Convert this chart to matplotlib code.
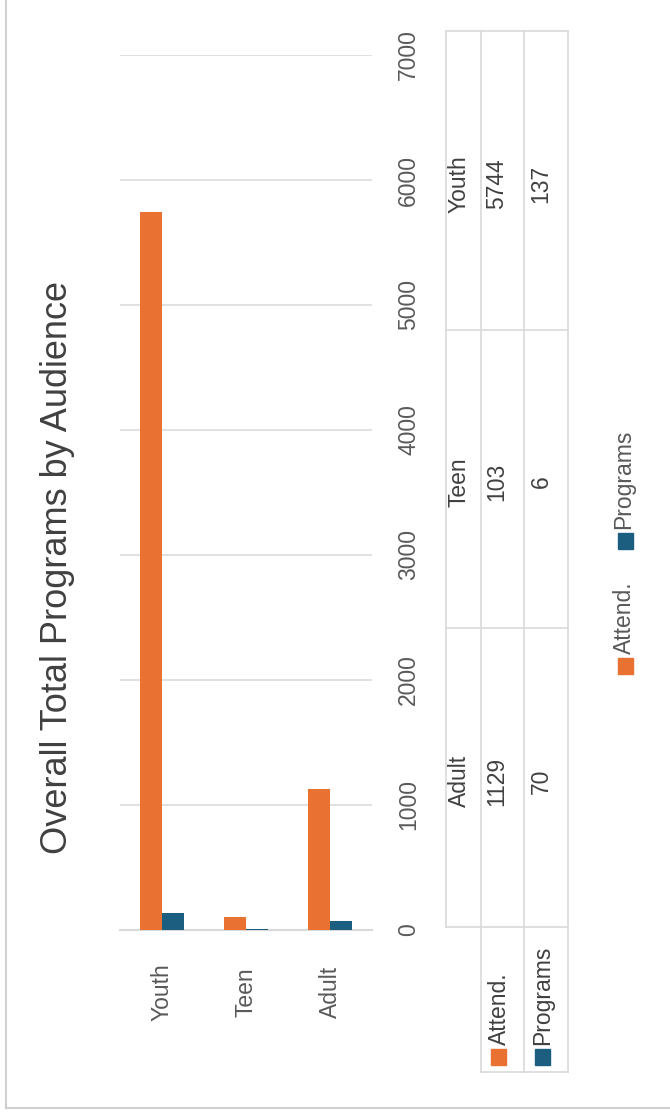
import matplotlib.pyplot as plt
from matplotlib.patches import Rectangle
from matplotlib.transforms import blended_transform_factory

categories = ['Youth', 'Teen', 'Adult']
attend = [5744, 103, 1129]
programs = [137, 6, 70]
series_names = ['Attend.', 'Programs']
yticks = [0, 1000, 2000, 3000, 4000, 5000, 6000, 7000]

orange = '#E97132'
blue = '#1B5E80'
grid_c = '#d9d9d9'
txt_c = '#595959'

plt.rcParams['font.family'] = ['Liberation Sans', 'DejaVu Sans']
fs = 16.5

W, H = 670, 1114
fig = plt.figure(figsize=(W / 100, H / 100), dpi=100)

# overlay in pixel units for the table, legend and frame
over = fig.add_axes([0, 0, 1, 1])
over.set_xlim(0, W)
over.set_ylim(H, 0)
over.axis('off')

# bar chart, drawn upright with rotated text
ax = fig.add_axes([120 / W, (H - 930) / H, 252 / W, 875 / H])
x = list(range(len(categories)))
w = 0.262
ax.bar([i - w / 2 for i in x], attend, width=w, color=orange, zorder=3)
ax.bar([i + w / 2 for i in x], programs, width=w, color=blue, zorder=3)
ax.set_xlim(-0.5, 2.5)
ax.set_ylim(0, 7000)
ax.set_yticks(yticks)
ax.yaxis.tick_right()
ax.tick_params(axis='y', length=0, pad=18, labelrotation=90, labelsize=fs, labelcolor=txt_c)
for t in ax.get_yticklabels():
    t.set_va('center')
ax.set_xticks([])
ax.grid(axis='y', color=grid_c, lw=1.1, zorder=0)
for s in ['top', 'right', 'left']:
    ax.spines[s].set_visible(False)
ax.spines['bottom'].set_color(grid_c)
ax.spines['bottom'].set_linewidth(1.5)

tr = blended_transform_factory(ax.transData, over.transData)
for i, c in enumerate(categories):
    ax.text(i, 992, c, transform=tr, rotation=90, ha='center', va='center',
            fontsize=fs, color=txt_c)

over.text(58, 568, 'Overall Total Programs by Audience', rotation=90,
          ha='center', va='center', fontsize=26, color='#404040')

# data table
lc = dict(color=grid_c, lw=1.2)
over.plot([446, 446], [31, 927], **lc)
for xv in [481, 524, 568]:
    over.plot([xv, xv], [31, 1072], **lc)
for yv in [31, 330, 628, 927]:
    over.plot([446, 568], [yv, yv], **lc)
over.plot([481, 568], [1072, 1072], **lc)

row_y = [184, 482, 781]
cols = [categories, attend, programs]
col_x = [459, 497, 541]
for cx, vals in zip(col_x, cols):
    for cy, v in zip(row_y, vals):
        over.text(cx, cy, str(v), rotation=90, ha='center', va='center',
                  fontsize=fs, color='#404040')

for cx, name, col in zip([499, 543], series_names, [orange, blue]):
    over.add_patch(Rectangle((cx - 8, 1049), 15, 16, color=col))
    over.text(cx, 1045, name, rotation=90, ha='center', va='bottom',
              fontsize=fs, color='#404040')

# legend
for ly, name, col in zip([658, 533], series_names, [orange, blue]):
    over.add_patch(Rectangle((618, ly), 15, 16, color=col))
    over.text(624, ly - 4, name, rotation=90, ha='center', va='bottom',
              fontsize=fs, color=txt_c)

# chart frame
over.plot([6, 6], [0, 1108], color='#d0d0d0', lw=1.5)
over.plot([6, W], [1108, 1108], color='#d0d0d0', lw=1.5)

fig.savefig('out.png', dpi=100)
